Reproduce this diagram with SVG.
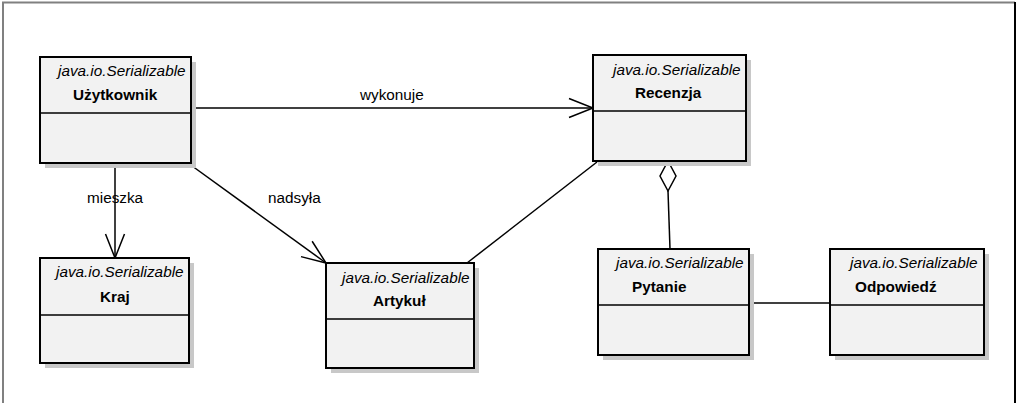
<svg xmlns="http://www.w3.org/2000/svg" width="1017" height="403" viewBox="0 0 1017 403">
<style>
text{font-family:"Liberation Sans",Arial,sans-serif;font-size:15.3px;fill:#000}
.st{font-style:italic}
.nm{font-weight:bold}
.box{fill:#f2f2f2;stroke:#000;stroke-width:2}
.sh{fill:#c8c8c8}
.div{stroke:#000;stroke-width:1.5}
.ln{stroke:#000;stroke-width:1.5;fill:none}
</style>
<defs>
<marker id="open" markerUnits="userSpaceOnUse" markerWidth="30" markerHeight="24" refX="0" refY="0" viewBox="-26 -12 28 24" orient="auto" overflow="visible">
<path d="M-24,-9.5 L0,0 L-24,9.5" fill="none" stroke="#000" stroke-width="1.5"/>
</marker>
</defs>
<rect width="1017" height="403" fill="#fff"/>
<path d="M3,403 V2.5 H1015" fill="none" stroke="#808080" stroke-width="2"/>
<path d="M1015,2 V403" fill="none" stroke="#000" stroke-width="2"/>

<g id="connectors">
<line class="ln" x1="191" y1="108" x2="593" y2="108" marker-end="url(#open)"/>
<text x="360" y="100">wykonuje</text>
<line class="ln" x1="115" y1="163" x2="115" y2="258" marker-end="url(#open)"/>
<text x="87" y="203">mieszka</text>
<line class="ln" x1="188" y1="163" x2="326" y2="263" marker-end="url(#open)"/>
<text x="268" y="203">nadsyła</text>
<line class="ln" x1="597" y1="162" x2="467" y2="263"/>
<polygon points="668,161 676,176 668,191 660,176" fill="#fff" stroke="#000" stroke-width="1.5"/>
<line class="ln" x1="668" y1="191" x2="670" y2="249"/>
<line class="ln" x1="749" y1="303" x2="830" y2="303"/>
</g>

<g id="uzytkownik">
<rect class="sh" x="45" y="62" width="151" height="106"/>
<rect class="box" x="40" y="57" width="151" height="106"/>
<line class="div" x1="40" y1="113" x2="191" y2="113"/>
<text class="st" x="58" y="76">java.io.Serializable</text>
<text class="nm" x="73" y="100">Użytkownik</text>
</g>

<g id="kraj">
<rect class="sh" x="45" y="263" width="149" height="105"/>
<rect class="box" x="40" y="258" width="149" height="105"/>
<line class="div" x1="40" y1="315" x2="189" y2="315"/>
<text class="st" x="56" y="277">java.io.Serializable</text>
<text class="nm" x="100" y="302">Kraj</text>
</g>

<g id="artykul">
<rect class="sh" x="331" y="268" width="148" height="105"/>
<rect class="box" x="326" y="263" width="148" height="105"/>
<line class="div" x1="326" y1="319" x2="474" y2="319"/>
<text class="st" x="342" y="283">java.io.Serializable</text>
<text class="nm" x="373" y="306">Artykuł</text>
</g>

<g id="recenzja">
<rect class="sh" x="598" y="60" width="153" height="106"/>
<rect class="box" x="593" y="55" width="153" height="106"/>
<line class="div" x1="593" y1="111" x2="746" y2="111"/>
<text class="st" x="613" y="75">java.io.Serializable</text>
<text class="nm" x="635" y="98">Recenzja</text>
</g>

<g id="pytanie">
<rect class="sh" x="603" y="254" width="151" height="106"/>
<rect class="box" x="598" y="249" width="151" height="106"/>
<line class="div" x1="598" y1="305" x2="749" y2="305"/>
<text class="st" x="616" y="268">java.io.Serializable</text>
<text class="nm" x="632" y="292">Pytanie</text>
</g>

<g id="odpowiedz">
<rect class="sh" x="835" y="254" width="154" height="106"/>
<rect class="box" x="830" y="249" width="154" height="106"/>
<line class="div" x1="830" y1="305" x2="984" y2="305"/>
<text class="st" x="850" y="268">java.io.Serializable</text>
<text class="nm" x="855" y="292">Odpowiedź</text>
</g>
</svg>
